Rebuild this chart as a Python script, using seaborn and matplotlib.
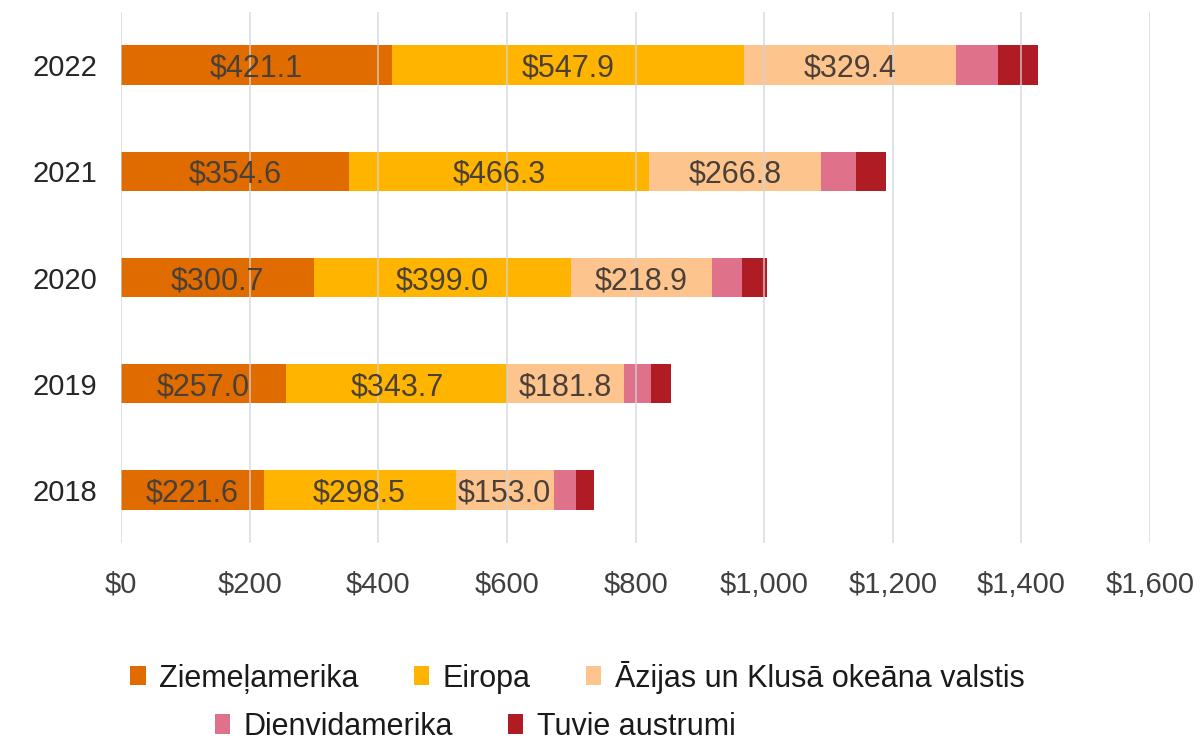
import pandas as pd
import numpy as np
import matplotlib.pyplot as plt
import seaborn as sns
from matplotlib.patches import Patch

# =====================================================
# DATA
# =====================================================

years = ["2022", "2021", "2020", "2019", "2018"]
regions = ["Ziemeļamerika", "Eiropa", "Āzijas un Klusā okeāna valstis",
           "Dienvidamerika", "Tuvie austrumi"]

north_america = [421.1, 354.6, 300.7, 257.0, 221.6]
europe = [547.9, 466.3, 399.0, 343.7, 298.5]
asia_pacific = [329.4, 266.8, 218.9, 181.8, 153.0]
south_america = [65.6, 55.0, 47.0, 41.0, 34.0]
middle_east = [61.0, 46.5, 39.0, 31.0, 28.0]

colors = ["#E06C00", "#FFB400", "#FDC48E", "#E0718A", "#B01C24"]
labelled = 3  # only the first three series carry value labels

# =====================================================
# PREPARE TABLE
# =====================================================

df = pd.DataFrame({
    "Year": years,
    regions[0]: north_america,
    regions[1]: europe,
    regions[2]: asia_pacific,
    regions[3]: south_america,
    regions[4]: middle_east,
})

cum = df[regions].cumsum(axis=1)
cum["Year"] = df["Year"]

# =====================================================
# PLOT
# =====================================================

sns.set_style("white")
plt.rcParams["font.family"] = ["Liberation Sans", "DejaVu Sans"]

fig = plt.figure(figsize=(12.03, 7.44), dpi=100)
ax = fig.add_axes([0.1006, 0.270, 0.8554, 0.714])

# draw cumulative totals from largest to smallest so segments stack
for i in reversed(range(len(regions))):
    sns.barplot(
        data=cum,
        x=regions[i],
        y="Year",
        order=years,
        color=colors[i],
        orient="h",
        width=0.37,
        saturation=1,
        edgecolor="none",
        ax=ax,
        zorder=2,
    )

# value labels
for i in range(labelled):
    for j, year in enumerate(years):
        val = df.loc[j, regions[i]]
        start = cum.loc[j, regions[i]] - val
        ax.text(start + val / 2, j, f"${val:,.1f}", ha="center",
                va="center_baseline", fontsize=22, color="#4A4038", zorder=4)

ax.set_xlim(0, 1600)
ax.set_ylim(4.5, -0.5)
ax.set_xticks(np.arange(0, 1601, 200))
ax.set_xticklabels([f"${v:,.0f}" for v in np.arange(0, 1601, 200)])
ax.set_xlabel("")
ax.set_ylabel("")

ax.grid(axis="x", color="#D0D4DA", linewidth=1.2, zorder=3, alpha=0.8)
ax.set_axisbelow(False)
for s in ax.spines.values():
    s.set_visible(False)

ax.tick_params(axis="x", length=0, pad=20, labelsize=21, labelcolor="#404040")
ax.tick_params(axis="y", length=0, pad=17, labelsize=21, labelcolor="#262626")

# legend in two centred rows
handles = [Patch(facecolor=c, edgecolor="none") for c in colors]
leg_kw = dict(loc="center", frameon=False, fontsize=22, handlelength=0.5,
              handleheight=0.6, handletextpad=0.45, columnspacing=1.8)
leg1 = fig.legend(handles[:3], regions[:3], bbox_to_anchor=(0.480, 0.090),
                  ncol=3, **leg_kw)
leg2 = fig.legend(handles[3:], regions[3:], bbox_to_anchor=(0.395, 0.023),
                  ncol=2, **leg_kw)
for leg in (leg1, leg2):
    for t in leg.get_texts():
        t.set_color("#1A1A1A")

plt.savefig("out.png", dpi=100)
